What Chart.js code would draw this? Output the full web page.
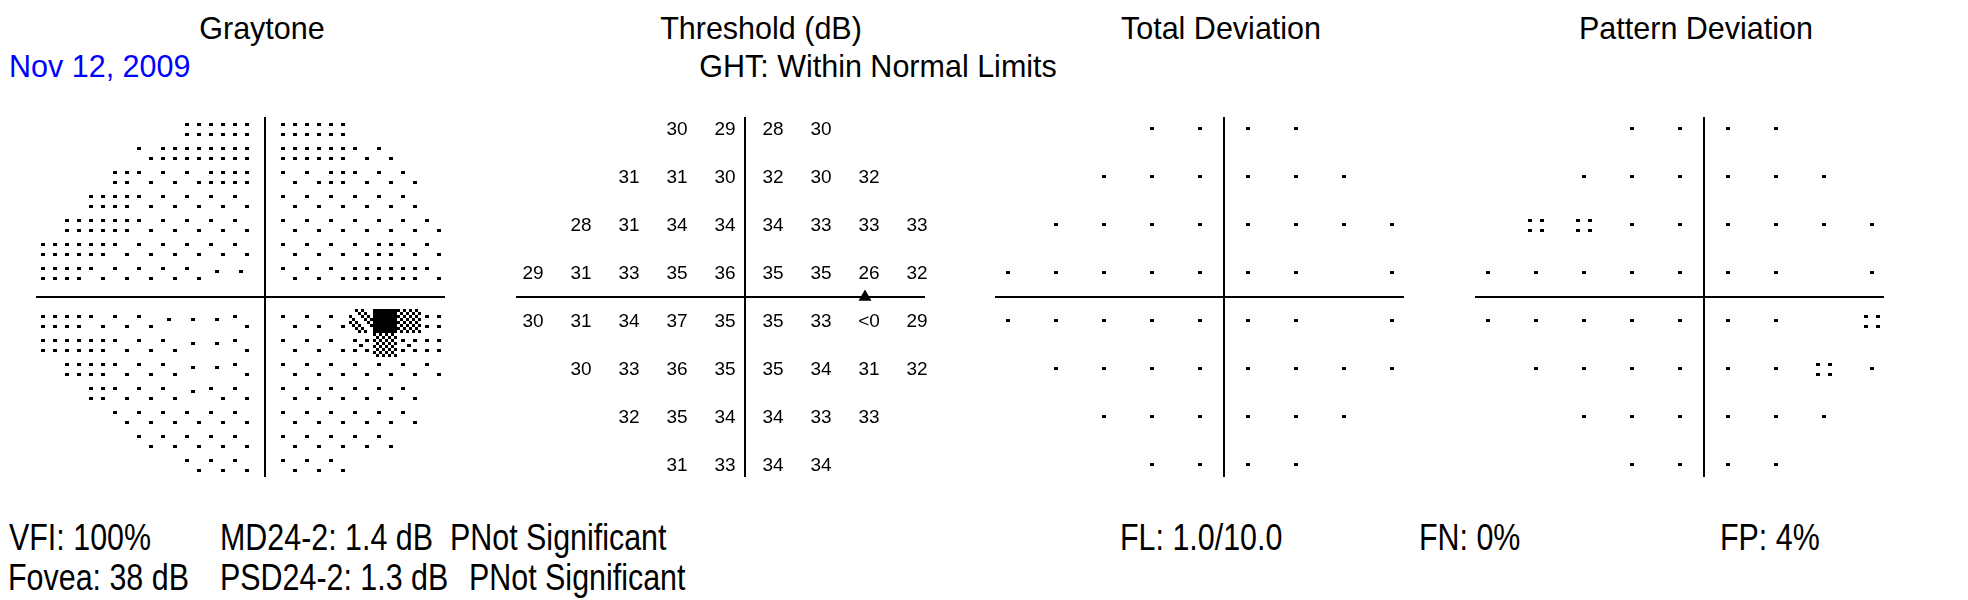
<!DOCTYPE html>
<html>
<head>
<meta charset="utf-8">
<script src="https://cdn.jsdelivr.net/npm/chart.js@4.4.0/dist/chart.umd.min.js"></script>
<style>
  html, body { margin: 0; padding: 0; background: #fff; }
  body { width: 1968px; height: 600px; position: relative; overflow: hidden;
         font-family: "Liberation Sans", Arial, sans-serif; color: #000; }
  .t { position: absolute; white-space: nowrap; line-height: 1; }
  .title { font-size: 30.5px; top: 12.7px; transform: translateX(-50%); }
  .stat { font-size: 36px; transform: scaleX(0.845); transform-origin: 0 0; }
  canvas { position: absolute; }
</style>
</head>
<body>
<div class="t title" style="left:262px">Graytone</div>
<div class="t title" style="left:761px">Threshold (dB)</div>
<div class="t title" style="left:1221px">Total Deviation</div>
<div class="t title" style="left:1696px">Pattern Deviation</div>
<div class="t" style="left:9px; top:51.2px; font-size:30.5px; color:#0000ff">Nov 12, 2009</div>
<div class="t" style="left:878px; top:51.2px; font-size:30.5px; transform:translateX(-50%)">GHT: Within Normal Limits</div>

<div class="t stat" style="left:9px; top:519.5px">VFI: 100%</div>
<div class="t stat" style="left:220px; top:519.5px">MD24-2: 1.4 dB</div>
<div class="t stat" style="left:450px; top:519.5px">PNot Significant</div>
<div class="t stat" style="left:8px; top:559.5px">Fovea: 38 dB</div>
<div class="t stat" style="left:220px; top:559.5px">PSD24-2: 1.3 dB</div>
<div class="t stat" style="left:469px; top:559.5px">PNot Significant</div>
<div class="t stat" style="left:1120px; top:519.5px">FL: 1.0/10.0</div>
<div class="t stat" style="left:1419px; top:519.5px">FN: 0%</div>
<div class="t stat" style="left:1720px; top:519.5px">FP: 4%</div>

<script>
// 24-2 test grid: one row per y, points every 6 deg from the first x
const rowY = [21, 15, 9, 3, -3, -9, -15, -21];
const rowFirstX = [-9, -15, -21, -27, -27, -21, -15, -9];
const thresholdRows = [
  ['30', '29', '28', '30'],
  ['31', '31', '30', '32', '30', '32'],
  ['28', '31', '34', '34', '34', '33', '33', '33'],
  ['29', '31', '33', '35', '36', '35', '35', '26', '32'],
  ['30', '31', '34', '37', '35', '35', '33', '<0', '29'],
  ['30', '33', '36', '35', '35', '34', '31', '32'],
  ['32', '35', '34', '34', '33', '33'],
  ['31', '33', '34', '34']
];
// symbols: '.' normal, ':' p < 5%, '-' not shown (blind spot)
const totalDevRows = ['....', '......', '........', '.......-.', '.......-.', '........', '......', '....'];
const patternDevRows = ['....', '......', '::......', '.......-.', '.......-:', '......:.', '......', '....'];
const blindSpot = { x: 15, y: 0 };

// graytone cells, 3 deg apart
// S sparse, H half, F full, M mixed, D light checker, C checker, B black
const grayX = [-27, -24, -21, -18, -15, -12, -9, -6, -3, 3, 6, 9, 12, 15, 18, 21];
const grayY = [21, 18, 15, 12, 9, 6, 3, -3, -6, -9, -12, -15, -18, -21];
const grayRows = [
  '......FFFFFF....',
  '....HFFFFFFFHH..',
  '...FHHHFFHHFHHH.',
  '..FFHHHHHHHHHHH.',
  '.FFFHHHHHHHHHHHH',
  'FFFHHHHHHHHHHFHH',
  'FFHHHHHSSHHHFFFH',
  'FFHHHSSSHHHHDBCF',
  'FFFHHHSSHHHHMCMF',
  '.FFHHHSSHHHHHHHH',
  '..FHHHSHHHHHHHH.',
  '...HHHHHHHHHHHH.',
  '....HHHHHHHHHH..',
  '......HHHHHH....'
];

// ---- symbol tiles ----
function tile(level) {
  const c = document.createElement('canvas');
  c.width = 24; c.height = 24;
  const g = c.getContext('2d');
  g.fillStyle = '#000';
  const dot = (x, y) => g.fillRect(x, y, 4, 3);
  if (level === 'S') dot(10, 9);
  if (level === 'H') { dot(4, 6); dot(16, 16); }
  if (level === 'F' || level === 'M') { dot(4, 6); dot(16, 6); dot(4, 16); dot(16, 16); }
  if (level === 'M') dot(10, 11);
  if (level === 'C' || level === 'D') {
    for (let i = 0; i < 8; i++) {
      for (let j = 0; j < 8; j++) {
        if ((i + j) % 2) continue;
        if (level === 'D' && (i - j + 9) % 3 === 0) continue;
        g.fillRect(i * 3, j * 3, 3, 3);
      }
    }
  }
  if (level === 'B') g.fillRect(0, 0, 24, 24);
  return c;
}
const tiles = {};
'SHFMDCB'.split('').forEach(k => tiles[k] = tile(k));

const smallDot = document.createElement('canvas');
smallDot.width = 4; smallDot.height = 4;
smallDot.getContext('2d').fillRect(0, 0, 4, 3);
const symbolStyle = { '.': smallDot, ':': tiles.F };

// ---- build point lists ----
function gridPoints(rows, make) {
  const pts = [];
  rows.forEach((row, r) => {
    for (let i = 0; i < row.length; i++) {
      const p = make(row[i], rowFirstX[r] + i * 6, rowY[r]);
      if (p) pts.push(p);
    }
  });
  return pts;
}
const thresholdPts = gridPoints(thresholdRows, (v, x, y) => ({ x, y, label: v }));
const symbolPts = rows => gridPoints(rows, (s, x, y) => s === '-' ? null : { x, y, sym: s });

const grayPts = [];
grayRows.forEach((row, r) => {
  for (let i = 0; i < row.length; i++) {
    if (row[i] !== '.') grayPts.push({ x: grayX[i], y: grayY[r], level: row[i] });
  }
});

// ---- plugins ----
const crossLines = {
  id: 'crossLines',
  beforeDatasetsDraw(chart) {
    const { ctx, chartArea: a, scales: { x, y } } = chart;
    const x0 = x.getPixelForValue(0), y0 = y.getPixelForValue(0);
    ctx.save();
    ctx.strokeStyle = '#000';
    ctx.lineWidth = 2;
    ctx.beginPath();
    ctx.moveTo(a.left, y0); ctx.lineTo(a.right, y0);
    ctx.moveTo(x0, a.top); ctx.lineTo(x0, a.bottom);
    ctx.stroke();
    ctx.restore();
  }
};

const valueLabels = {
  id: 'valueLabels',
  afterDatasetsDraw(chart) {
    const ctx = chart.ctx;
    const ds = chart.data.datasets[0];
    ctx.save();
    ctx.font = '19px "Liberation Sans", Arial, sans-serif';
    ctx.fillStyle = '#000';
    ctx.textAlign = 'center';
    chart.getDatasetMeta(0).data.forEach((pt, i) => {
      ctx.fillText(ds.data[i].label, pt.x + 4, pt.y + 6);
    });
    ctx.restore();
  }
};

// ---- panels ----
const PAD = 12;
const X_MIN = -28.625, X_MAX = 22.5, Y_MIN = -22.5, Y_MAX = 22.5;
const DEG = 8;
const AXIS_Y = 297;

function panel(cx, datasets, extra) {
  const c = document.createElement('canvas');
  const w = (X_MAX - X_MIN) * DEG + 2 * PAD;
  const h = (Y_MAX - Y_MIN) * DEG + 2 * PAD;
  c.width = w; c.height = h;
  c.style.width = w + 'px'; c.style.height = h + 'px';
  c.style.left = (cx + X_MIN * DEG - PAD) + 'px';
  c.style.top = (AXIS_Y - Y_MAX * DEG - PAD) + 'px';
  document.body.appendChild(c);
  return new Chart(c, {
    type: 'scatter',
    data: { datasets },
    options: {
      responsive: false,
      animation: false,
      devicePixelRatio: 1,
      events: [],
      layout: { padding: PAD },
      plugins: { legend: { display: false }, tooltip: { enabled: false } },
      scales: {
        x: { type: 'linear', min: X_MIN, max: X_MAX, display: false },
        y: { type: 'linear', min: Y_MIN, max: Y_MAX, display: false }
      }
    },
    plugins: [crossLines].concat(extra || [])
  });
}

panel(265, [{
  data: grayPts,
  pointRadius: 3,
  pointStyle: ctx => tiles[ctx.raw.level]
}]);

panel(745, [
  { data: thresholdPts, pointRadius: 0 },
  { data: [blindSpot], pointStyle: 'triangle', pointRadius: 7.5,
    backgroundColor: '#000', borderWidth: 0 }
], [valueLabels]);

panel(1224, [{
  data: symbolPts(totalDevRows),
  pointRadius: 3,
  pointStyle: ctx => symbolStyle[ctx.raw.sym]
}]);

panel(1704, [{
  data: symbolPts(patternDevRows),
  pointRadius: 3,
  pointStyle: ctx => symbolStyle[ctx.raw.sym]
}]);
</script>
</body>
</html>
